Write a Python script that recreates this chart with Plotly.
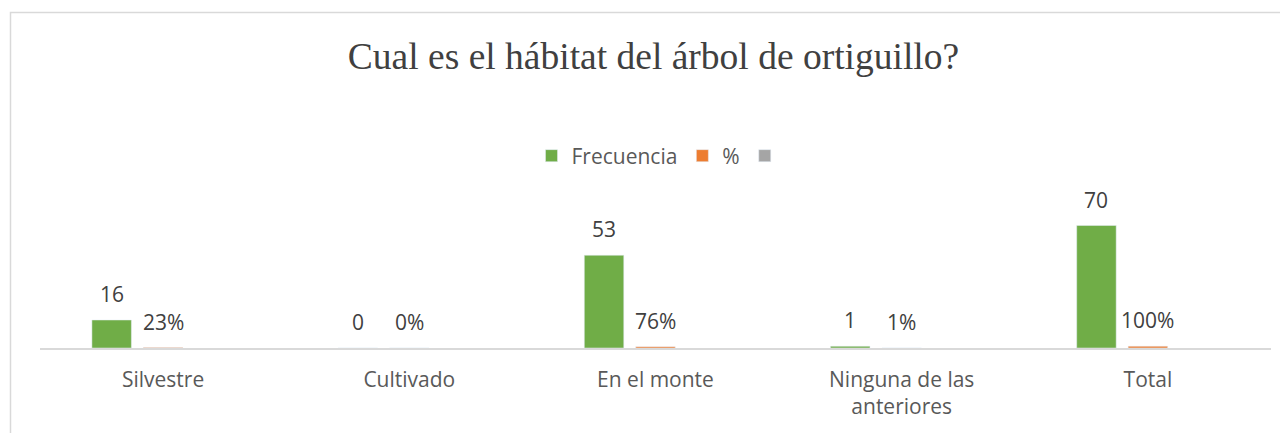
import plotly.graph_objects as go

categories = ["Silvestre", "Cultivado", "En el monte", "Ninguna de las<br>anteriores", "Total"]
frecuencia = [16, 0, 53, 1, 70]
porcentaje = [0.23, 0.0, 0.76, 0.01, 1.00]
tercera = [None, None, None, None, None]

GREEN = "#70ad47"
ORANGE = "#ed7d31"
GRAY = "#a5a5a5"
TXT = "#595959"

# page has an 8px body margin; figure is sized to fill the rest of the window
W, H = 1280, 425
ml, mr, mt, mb = 32, 17, 200, 85

fig = go.Figure()
fig.add_trace(go.Bar(x=categories, y=frecuencia, name="Frecuencia", marker_color=GREEN))
fig.add_trace(go.Bar(x=categories, y=porcentaje, name="%", marker_color=ORANGE))
fig.add_trace(go.Bar(x=categories, y=tercera, name=" ", marker_color=GRAY))

slot = 51.5
for c, v in zip(categories, frecuencia):
    fig.add_annotation(x=c, y=v, xref="x", yref="y", text=str(v), showarrow=False,
                       xshift=-slot, yshift=26, yanchor="middle",
                       font=dict(family="Open Sans", size=21, color="#404040"))
for c, v in zip(categories, porcentaje):
    fig.add_annotation(x=c, y=v, xref="x", yref="y", text=f"{round(v*100)}%", showarrow=False,
                       xshift=0, yshift=26, yanchor="middle",
                       font=dict(family="Open Sans", size=21, color="#404040"))

# chart frame
pw = W - ml - mr
ph = H - mt - mb
fig.add_shape(type="rect", xref="paper", yref="paper",
              x0=(2.5 - ml) / pw, x1=(W + 5 - ml) / pw,
              y0=(H - mb - (H + 5)) / ph, y1=(H - mb - 4.5) / ph,
              line=dict(color="#d9d9d9", width=1.5), fillcolor="rgba(0,0,0,0)", layer="below")

fig.update_layout(
    width=W, height=H,
    margin=dict(l=ml, r=mr, t=mt, b=mb, autoexpand=False),
    paper_bgcolor="white", plot_bgcolor="white",
    barmode="group", bargap=0.373, bargroupgap=0.233,
    title=dict(text="Cual es el hábitat del árbol de ortiguillo?", x=0.5 - 2 / pw, xref="paper",
               xanchor="center", y=1 - 48 / H, yanchor="middle", yref="container",
               font=dict(family="Liberation Serif", size=37.5, color="#404040")),
    legend=dict(orientation="h", x=0.5 + 8 / pw, xanchor="center", y=1 - 148 / H, yref="container",
                yanchor="middle", font=dict(family="Open Sans", size=21, color=TXT),
                itemwidth=30, traceorder="normal"),
    showlegend=True,
    xaxis=dict(showline=True, linecolor="#d9d9d9", linewidth=1.5, ticks="",
               tickfont=dict(family="Open Sans", size=21, color=TXT), ticklabelstandoff=12,
               fixedrange=True),
    yaxis=dict(range=[0, 80], visible=False, showgrid=False, zeroline=False),
)

fig.write_html("out.html")
